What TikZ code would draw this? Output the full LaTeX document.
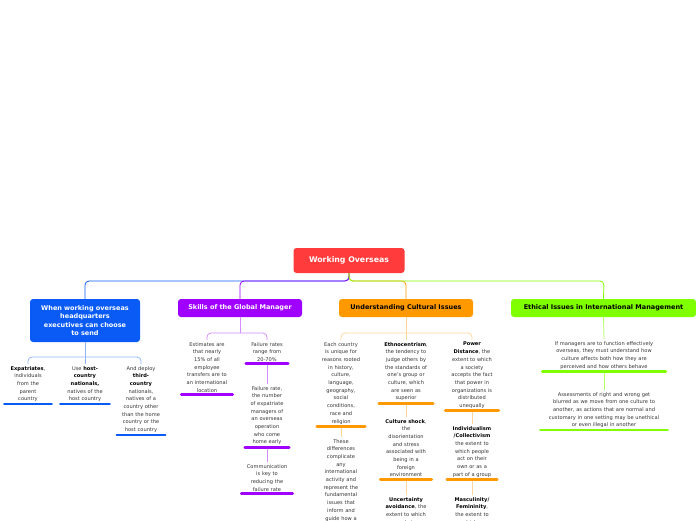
\documentclass[tikz,border=0pt]{standalone}
\usepackage{fontspec}
\setmainfont{DejaVu Sans}
\usetikzlibrary{positioning}
\definecolor{rootred}{HTML}{FF3B3B}
\definecolor{mblue}{HTML}{0A5BF5}
\definecolor{mpurple}{HTML}{A000FF}
\definecolor{morange}{HTML}{FF9900}
\definecolor{mgreen}{HTML}{80FF00}
\definecolor{txt}{HTML}{333333}
\tikzset{
  main/.style={rounded corners=3pt,text=white,font=\fontsize{6.5}{8.5}\selectfont\bfseries,
    align=center,inner xsep=5pt,inner ysep=4pt},
  leaf/.style={anchor=north,align=center,text=txt,inner xsep=4pt,inner ysep=2pt,
    font=\fontsize{5.1}{7.7}\selectfont},
  bar/.style={line width=2.6pt,line cap=round},
  link/.style={line width=0.8pt,rounded corners=4pt},
}
\newcommand\leafbar[2]{\draw[bar,#2] ([xshift=1.5pt]#1.south west) -- ([xshift=-1.5pt]#1.south east);}

\begin{document}
\begin{tikzpicture}[x=1pt,y=-1pt]
    \useasboundingbox (0,0) rectangle (696,520);

    % root and main topics
    \node[main,fill=rootred,font=\fontsize{7.8}{9}\selectfont\bfseries,minimum width=111pt,minimum height=25pt] (root) at (349,260.5) {Working Overseas};
    \node[main,fill=mblue,text width=100pt,minimum height=43pt] (send) at (85,320.5) {When working overseas\\headquarters\\executives can choose\\to send};
    \node[main,fill=mpurple,minimum width=124pt,minimum height=18pt] (skills) at (240,308) {Skills of the Global Manager};
    \node[main,fill=morange,text=black,minimum width=134pt,minimum height=18pt] (culture) at (406,308) {Understanding Cultural Issues};
    \node[main,fill=mgreen,text=black,minimum width=185pt,minimum height=18pt] (ethics) at (603.5,308) {Ethical Issues in International Management};

    \draw[link,mblue] (root.south) |- (85,281) -- (send.north);
    \draw[link,mpurple] (root.south) |- (240,281) -- (skills.north);
    \draw[link,morange] (root.south) |- (406,281) -- (culture.north);
    \draw[link,mgreen] (root.south) |- (604,281) -- (ethics.north);

    % headquarters choices
    \node[leaf,text width=42pt] (expat) at (28,364) {\textbf{\color{black}Expatriates}, individuals\\from the\\parent\\country};
    \node[leaf,text width=44pt] (host) at (85,364) {Use \textbf{\color{black}host-\\country\\nationals,}\\natives of the\\host country};
    \node[leaf,text width=43pt] (third) at (141,364) {And deploy\\\textbf{\color{black}third-\\country}\\nationals,\\natives of a\\country other\\than the home\\country or the\\host country};
    \draw[link,mblue!45] (send.south) -- (85,357);
    \draw[link,mblue!45] (expat.north) |- (85,357) -| (third.north);
    \draw[link,mblue!45] (85,357) -- (host.north);
    \foreach \n in {expat,host,third} {\leafbar{\n}{mblue}}

    % global manager
    \node[leaf,text width=46pt] (estim) at (207,340) {Estimates are\\that nearly\\15\% of all\\employee\\transfers are to\\an international\\location};
    \node[leaf,text width=37pt] (rates) at (267,340) {Failure rates\\range from\\20-70\%};
    \node[leaf,text width=39pt] (frate) at (267,384) {Failure rate,\\the number\\of expatriate\\managers of\\an overseas\\operation\\who come\\home early};
    \node[leaf,text width=46pt] (comm) at (267,462) {Communication\\is key to\\reducing the\\failure rate};
    \draw[link,mpurple!45] (skills.south) -- (240,333);
    \draw[link,mpurple!45] (estim.north) |- (240,333) -| (rates.north);
    \draw[link,mpurple!45] (rates.south) -- (frate.north);
    \draw[link,mpurple!45] (frate.south) -- (comm.north);
    \foreach \n in {estim,rates,frate,comm} {\leafbar{\n}{mpurple}}

    % cultural issues
    \node[leaf,text width=43pt] (unique) at (341,340) {Each country\\is unique for\\reasons rooted\\in history,\\culture,\\language,\\geography,\\social\\conditions,\\race and\\religion};
    \node[leaf,text width=43pt] (differ) at (341,437) {These\\differences\\complicate\\any\\international\\activity and\\represent the\\fundamental\\issues that\\inform and\\guide how a\\company\\should};
    \node[leaf,text width=49pt] (ethno) at (406,340) {\textbf{\color{black}Ethnocentrism},\\the tendency to\\judge others by\\the standards of\\one's group or\\culture, which\\are seen as\\superior};
    \node[leaf,text width=46pt] (shock) at (406,417) {\textbf{\color{black}Culture shock},\\the\\disorientation\\and stress\\associated with\\being in a\\foreign\\environment};
    \node[leaf,text width=46pt] (uncert) at (406,495) {\textbf{\color{black}Uncertainty\\avoidance}, the\\extent to which\\people in a};
    \node[leaf,text width=48pt] (power) at (472,340) {\textbf{\color{black}Power\\Distance}, the\\extent to which\\a society\\accepts the fact\\that power in\\organizations is\\distributed\\unequally};
    \node[leaf,text width=45pt] (indiv) at (472,424) {\textbf{\color{black}Individualism\\/Collectivism}\\the extent to\\which people\\act on their\\own or as a\\part of a group};
    \node[leaf,text width=45pt] (masc) at (472,495) {\textbf{\color{black}Masculinity/\\Femininity},\\the extent to\\which a};
    \draw[link,morange!40] (culture.south) -- (406,333);
    \draw[link,morange!40] (unique.north) |- (406,333) -| (power.north);
    \draw[link,morange!40] (406,333) -- (ethno.north);
    \draw[link,morange!40] (unique.south) -- (differ.north);
    \draw[link,morange!40] (ethno.south) -- (shock.north);
    \draw[link,morange!40] (shock.south) -- (uncert.north);
    \draw[link,morange!40] (power.south) -- (indiv.north);
    \draw[link,morange!40] (indiv.south) -- (masc.north);
    \foreach \n in {unique,ethno,shock,power,indiv} {\leafbar{\n}{morange}}

    % ethical issues
    \node[leaf,text width=118pt] (effect) at (604,339) {If managers are to function effectively\\overseas, they must understand how\\culture affects both how they are\\perceived and how others behave};
    \node[leaf,text width=122pt] (assess) at (604,390) {Assessments of right and wrong get\\blurred as we move from one culture to\\another, as actions that are normal and\\customary in one setting may be unethical\\or even illegal in another};
    \draw[link,mgreen!60] (ethics.south) -- (effect.north);
    \draw[link,mgreen!60] (effect.south) -- (assess.north);
    \foreach \n in {effect,assess} {\leafbar{\n}{mgreen}}
\end{tikzpicture}
\end{document}
